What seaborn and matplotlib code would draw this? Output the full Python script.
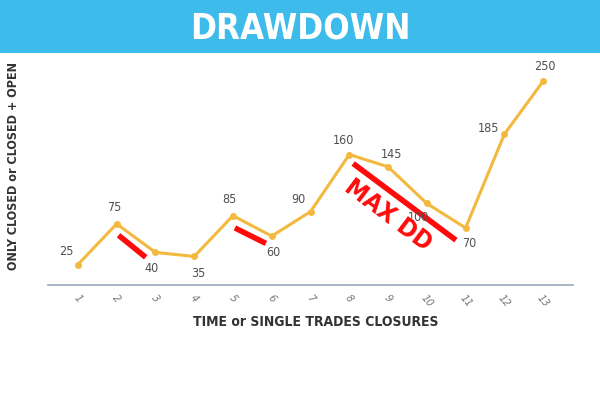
import matplotlib
matplotlib.use("Agg")
import matplotlib.pyplot as plt
import seaborn as sns
import pandas as pd

trades = list(range(1, 14))
equity = [25, 75, 40, 35, 85, 60, 90, 160, 145, 100, 70, 185, 250]
tick_labels = [str(t) for t in trades]

# label offsets (pixels) relative to each point
label_dx = [-12, -2, -4, 4, -4, 2, -12, -6, 3, -8, 4, -16, 2]
label_dy = [13, 16, -16, -17, 16, -16, 12, 14, 12, -14, -16, 6, 15]

# drawdown marker segments (x0, y0, x1, y1) in data units
dd_x0 = [2.05, 5.05, 8.1]
dd_y0 = [61, 70, 149]
dd_x1 = [2.75, 5.85, 10.75]
dd_y1 = [34, 51, 55]

sns.set_theme(style="white")
plt.rcParams['font.family'] = ['DejaVu Sans']
plt.rcParams['font.stretch'] = 'condensed'

fig = plt.figure(figsize=(6, 3.99), dpi=100)
fig.patch.set_facecolor("white")

# title band
band = fig.add_axes([0, 1 - 53 / 399, 1, 53 / 399])
band.set_facecolor("#3dbbea")
band.set_xticks([]); band.set_yticks([])
for s in band.spines.values():
    s.set_visible(False)
band.text(0.5, 0.47, "DRAWDOWN", color="white", fontsize=25, fontweight="heavy",
          ha="center", va="center", fontstretch="condensed")

ax = fig.add_axes([48 / 600, 1 - 285 / 399, 525 / 600, 225 / 399])
df = pd.DataFrame({"trade": trades, "equity": equity})
sns.lineplot(data=df, x="trade", y="equity", ax=ax, color="#f3b93f", linewidth=2.2,
             marker="o", markersize=5, markeredgewidth=0)
ax.set_xlim(0.23, 13.77)
ax.set_ylim(0, 276)
ax.set_yticks([])
ax.set_xticks(trades)
ax.set_xticklabels(tick_labels, rotation=-50, fontsize=8, color="#777777",
                   style="italic", ha="center")
ax.tick_params(axis="x", length=0, pad=6)
for side in ["top", "right", "left"]:
    ax.spines[side].set_visible(False)
ax.spines["bottom"].set_color("#9aaabb")
ax.spines["bottom"].set_linewidth(1.2)
ax.set_xlabel("")
ax.set_ylabel("")

for x, y, dx, dy in zip(trades, equity, label_dx, label_dy):
    ax.annotate(str(y), (x, y), xytext=(dx, dy), textcoords="offset pixels",
                ha="center", va="center", fontsize=9, color="#505050",
                fontstretch="condensed")

for x0, y0, x1, y1 in zip(dd_x0, dd_y0, dd_x1, dd_y1):
    ax.plot([x0, x1], [y0, y1], color="#ff0a0a", linewidth=4, solid_capstyle="butt")

ax.text(9.0, 86, "MAX DD", color="#ff0a0a", fontsize=18, fontweight="heavy",
        rotation=-37, ha="center", va="center", fontstretch="condensed")

fig.text(316 / 600, 1 - 322 / 399, "TIME or SINGLE TRADES CLOSURES", ha="center",
         va="center", fontsize=10, fontweight="bold", color="#333333",
         fontstretch="condensed")
fig.text(14 / 600, 1 - 166 / 399, "ONLY CLOSED or CLOSED + OPEN", ha="center",
         va="center", fontsize=9, fontweight="bold", color="#333333", rotation=90,
         fontstretch="condensed")

fig.savefig("out.png", dpi=100)
